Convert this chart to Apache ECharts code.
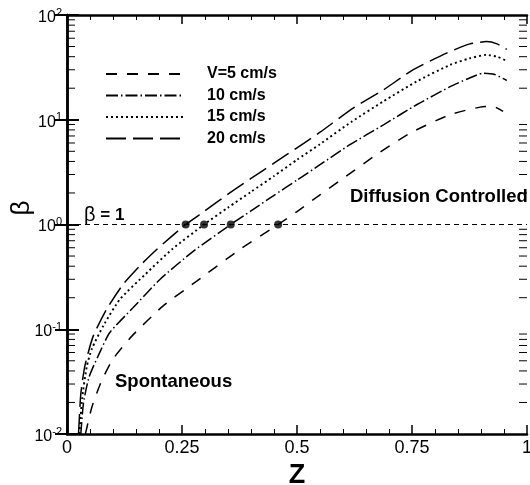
<!DOCTYPE html>
<html lang="en">
<head>
<meta charset="UTF-8"/>
<title>beta vs Z</title>
<script src="https://cdn.jsdelivr.net/npm/echarts@6/dist/echarts.min.js"></script>
<style>
  html, body { margin: 0; padding: 0; background: #fff; }
  #main { width: 530px; height: 485px; }
</style>
</head>
<body>
<div id="main"></div>
<script type="text/javascript">
// curve data: Z and beta for each velocity
var z5  = [0.04, 0.054, 0.075, 0.1, 0.141, 0.209, 0.282, 0.376, 0.459, 0.5, 0.55, 0.6, 0.673, 0.746, 0.833, 0.898, 0.926, 0.948];
var b5  = [0.01, 0.018, 0.032, 0.052, 0.086, 0.167, 0.288, 0.578, 1.0, 1.33, 1.92, 2.75, 4.65, 7.46, 11.2, 13.2, 13.4, 12.0];
var z10 = [0.03, 0.036, 0.048, 0.068, 0.093, 0.144, 0.202, 0.275, 0.356, 0.4, 0.45, 0.5, 0.55, 0.615, 0.688, 0.76, 0.833, 0.87, 0.905, 0.93, 0.956];
var b10 = [0.01, 0.02, 0.035, 0.056, 0.093, 0.161, 0.299, 0.557, 1.0, 1.35, 1.9, 2.65, 3.72, 5.78, 8.95, 13.9, 20.7, 24.5, 27.8, 27, 23.7];
var z15 = [0.027, 0.033, 0.043, 0.054, 0.079, 0.115, 0.17, 0.228, 0.298, 0.35, 0.4, 0.45, 0.5, 0.55, 0.619, 0.688, 0.76, 0.833, 0.875, 0.912, 0.935, 0.956];
var b15 = [0.01, 0.022, 0.044, 0.065, 0.108, 0.193, 0.334, 0.578, 1.0, 1.45, 2.05, 2.9, 4.15, 5.85, 9.6, 15.0, 23.2, 33.4, 38.5, 41.6, 40, 36.5];
var z20 = [0.025, 0.03, 0.039, 0.057, 0.086, 0.122, 0.16, 0.195, 0.258, 0.3, 0.35, 0.4, 0.45, 0.5, 0.55, 0.622, 0.688, 0.752, 0.825, 0.876, 0.912, 0.935, 0.956];
var b20 = [0.01, 0.024, 0.045, 0.086, 0.155, 0.268, 0.41, 0.578, 1.0, 1.35, 1.95, 2.75, 3.85, 5.4, 7.6, 12.9, 19.3, 29.9, 43.2, 53, 55.7, 53, 47];
// where each curve crosses beta = 1
var zCross = [0.258, 0.298, 0.356, 0.459];
var names = ['V=5 cm/s', '10 cm/s', '15 cm/s', '20 cm/s'];

var FONT = 'Liberation Sans, Arial, sans-serif';

function pairs(xs, ys) {
  return xs.map(function (x, i) { return [x, ys[i]]; });
}

// log minor ticks 2..9 x 10^k
var minorVals = [];
for (var k = -2; k < 2; k++) {
  for (var m = 2; m <= 9; m++) minorVals.push(+(m * Math.pow(10, k)).toPrecision(3));
}

var myChart = echarts.init(document.getElementById('main'));

function curve(name, data, dash, w) {
  return {
    name: name, type: 'line', data: data,
    symbol: 'none', smooth: 0.2,
    lineStyle: { color: '#000', width: w || 1.5, type: dash },
    itemStyle: { color: '#000' },
    z: 3
  };
}

var option = {
  backgroundColor: '#fff',
  animation: false,
  grid: { left: 67, right: 3, top: 15, bottom: 51, containLabel: false, outerBoundsMode: 'none' },
  legend: {
    orient: 'vertical', left: 100, top: 61,
    itemWidth: 77, itemHeight: 14, itemGap: 5.5,
    selectedMode: false,
    data: names,
    itemStyle: { color: 'rgba(0,0,0,0)', borderWidth: 0 },
    textStyle: { fontFamily: FONT, fontSize: 16, fontWeight: 'bold', color: '#000', padding: [0, 0, 0, 19] }
  },
  xAxis: [{
    type: 'value', position: 'bottom', min: 0, max: 1, interval: 0.25,
    name: 'Z', nameLocation: 'middle', nameGap: 19,
    nameTextStyle: { fontFamily: FONT, fontSize: 27, fontWeight: 'bold', color: '#000' },
    axisLine: { lineStyle: { color: '#000', width: 2.5 } },
    axisTick: { inside: true, length: 9, lineStyle: { color: '#000', width: 1.5 } },
    minorTick: { show: true, splitNumber: 5, length: 5, lineStyle: { color: '#000', width: 1 } },
    axisLabel: { fontFamily: FONT, fontSize: 18, color: '#000', margin: 5 },
    splitLine: { show: false }
  }, {
    type: 'value', position: 'top', min: 0, max: 1, interval: 0.25,
    axisLine: { lineStyle: { color: '#000', width: 2.5 } },
    axisTick: { inside: true, length: 9, lineStyle: { color: '#000', width: 1.5 } },
    minorTick: { show: true, splitNumber: 5, length: 5, lineStyle: { color: '#000', width: 1 } },
    axisLabel: { show: false },
    splitLine: { show: false }
  }],
  yAxis: [{
    type: 'log', logBase: 10, min: 0.01, max: 100, interval: 1, position: 'left',
    axisLine: { lineStyle: { color: '#000', width: 2.5 } },
    axisTick: { inside: true, length: 12, lineStyle: { color: '#000', width: 2 } },
    axisLabel: {
      margin: 5, color: '#000', fontFamily: FONT, fontSize: 16,
      formatter: function (v) { return '{b|10}{s|' + Math.round(Math.log10(v)) + '}'; },
      rich: {
        b: { fontFamily: FONT, fontSize: 16, color: '#000', padding: [5, 0, 0, 0] },
        s: { fontFamily: FONT, fontSize: 11, color: '#000', padding: [0, 0, 5, 0] }
      }
    },
    splitLine: { show: false }
  }, {
    type: 'log', logBase: 10, min: 0.01, max: 100, interval: 1, position: 'right',
    axisLine: { lineStyle: { color: '#000', width: 2.5 } },
    axisTick: { inside: true, length: 12, lineStyle: { color: '#000', width: 2 } },
    axisLabel: { show: false },
    splitLine: { show: false }
  }],
  graphic: [
    { type: 'text', x: 22, y: 208, rotation: Math.PI / 2,
      style: { text: 'β', fontFamily: FONT, fontSize: 26, fill: '#000', align: 'center', verticalAlign: 'middle' } },
    { type: 'text', left: 350, top: 187, style: { text: 'Diffusion Controlled', fontFamily: FONT, fontSize: 18.5, fontWeight: 'bold', fill: '#000' } },
    { type: 'text', left: 115, top: 372, style: { text: 'Spontaneous', fontFamily: FONT, fontSize: 18.5, fontWeight: 'bold', fill: '#000' } },
    { type: 'text', left: 84, top: 205, style: {
        text: '{g|β}{t| = 1}',
        rich: {
          g: { fontFamily: FONT, fontSize: 20, fill: '#000' },
          t: { fontFamily: FONT, fontSize: 17, fontWeight: 'bold', fill: '#000' }
        }
    } }
  ],
  series: [
    curve(names[0], pairs(z5, b5), [11, 10]),
    curve(names[1], pairs(z10, b10), [12, 3, 1.5, 3]),
    curve(names[2], pairs(z15, b15), [2, 3], 1.9),
    curve(names[3], pairs(z20, b20), [20, 7]),
    {
      type: 'line', data: [[0, 1], [1, 1]], symbol: 'none', silent: true,
      lineStyle: { color: '#000', width: 1, type: [5, 4] }, z: 2
    },
    {
      type: 'scatter', data: zCross.map(function (z) { return [z, 1]; }),
      symbol: 'circle', symbolSize: 8, itemStyle: { color: '#000' }, z: 4
    },
    {
      // minor log ticks on the left and right frame
      type: 'custom', silent: true, clip: false, z: 5,
      data: minorVals.map(function (v) { return [0, v]; }),
      renderItem: function (params, api) {
        var v = api.value(1);
        var pl = api.coord([0, v]);
        var pr = api.coord([1, v]);
        var st = { stroke: '#000', lineWidth: 1 };
        return { type: 'group', children: [
          { type: 'line', shape: { x1: pl[0], y1: pl[1], x2: pl[0] + 8, y2: pl[1] }, style: st },
          { type: 'line', shape: { x1: pr[0] - 8, y1: pr[1], x2: pr[0], y2: pr[1] }, style: st }
        ] };
      }
    }
  ]
};

myChart.setOption(option);
</script>
</body>
</html>
